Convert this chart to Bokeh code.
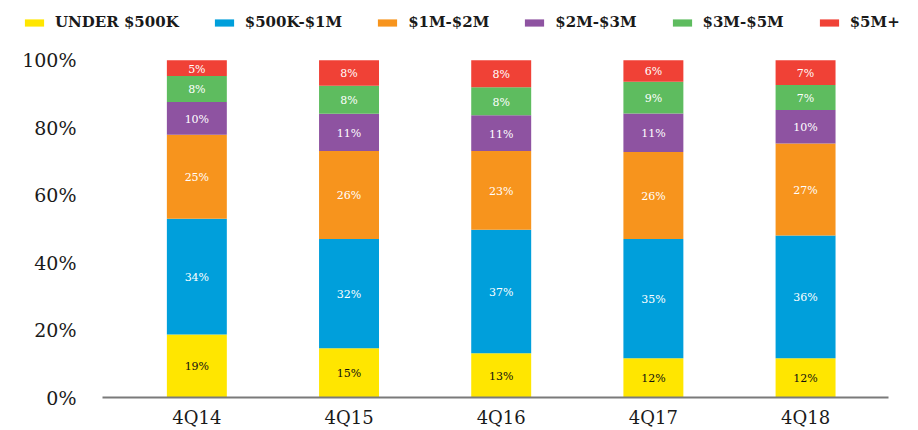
from bokeh.plotting import figure
from bokeh.models import (ColumnDataSource, Range1d, FixedTicker, Legend, LegendItem)
from bokeh.layouts import column
from bokeh.core.properties import value
from bokeh.embed import file_html
from bokeh.resources import INLINE

# ---- data ----
quarters = ["4Q14", "4Q15", "4Q16", "4Q17", "4Q18"]
series_names = ["UNDER $500K", "$500K-$1M", "$1M-$2M", "$2M-$3M", "$3M-$5M", "$5M+"]
under_500k = [18.7, 14.6, 13.1, 11.6, 11.6]
k500_1m = [34.3, 32.4, 36.6, 35.4, 36.4]
m1_2m = [24.9, 26.1, 23.4, 25.8, 27.3]
m2_3m = [9.7, 11.0, 10.6, 11.4, 9.9]
m3_5m = [7.7, 8.3, 8.3, 9.4, 7.4]
m5_plus = [4.7, 7.6, 8.0, 6.4, 7.4]
y_ticks = [0, 20, 40, 60, 80, 100]
y_tick_labels = ["0%", "20%", "40%", "60%", "80%", "100%"]

colors = ["#FFE600", "#009FDB", "#F7941D", "#8E53A1", "#5EBC5F", "#F04136"]
label_colors = ["#111111", "white", "white", "white", "white", "white"]
serif = "DejaVu Serif"

series = [under_500k, k500_1m, m1_2m, m2_3m, m3_5m, m5_plus]
keys = ["s%d" % i for i in range(len(series))]
xs = list(range(len(quarters)))
data = {"x": xs}
for k, s in zip(keys, series):
    data[k] = s
source = ColumnDataSource(data)

# ---- legend strip ----
lf = figure(width=918, height=34, output_backend="svg", toolbar_location=None,
            x_range=Range1d(0, 1), y_range=Range1d(0, 1),
            x_axis_type=None, y_axis_type=None,
            min_border_left=0, min_border_right=0, min_border_top=0, min_border_bottom=0)
lf.frame_align = False
lf.outline_line_color = None
lf.xgrid.visible = False
lf.ygrid.visible = False
legend_renderers = lf.vbar_stack(keys, x="x", width=0.394, color=colors, source=source,
                                 line_color=None, visible=False)
legend = Legend(items=[LegendItem(label=n, renderers=[r]) for n, r in zip(series_names, legend_renderers)],
                orientation="horizontal", location=(22, 2))
legend.border_line_color = None
legend.background_fill_alpha = 0
legend.inactive_fill_alpha = 0
legend.padding = 2
legend.margin = 0
legend.spacing = 33
legend.glyph_width = 24
legend.glyph_height = 9
legend.label_height = 20
legend.label_standoff = 9
legend.label_text_font = serif
legend.label_text_font_style = "bold"
legend.label_text_font_size = "15px"
legend.label_text_color = "#1a1a1a"
lf.add_layout(legend)

# ---- main chart ----
p = figure(width=918, height=396, output_backend="svg", toolbar_location=None,
           x_range=Range1d(-0.62, 4.545), y_range=Range1d(0, 107.6),
           min_border_left=102, min_border_right=30, min_border_bottom=33,
           min_border_top=0)
p.frame_align = False
p.outline_line_color = None
p.xgrid.visible = False
p.ygrid.visible = False
p.background_fill_color = "white"
p.border_fill_color = "white"

p.vbar_stack(keys, x="x", width=0.394, color=colors, source=source, line_color=None)

# segment labels
for i, (s, lc) in enumerate(zip(series, label_colors)):
    mids, texts = [], []
    for j in range(len(quarters)):
        base = sum(series[k][j] for k in range(i))
        mids.append(base + s[j] / 2.0)
        texts.append("%d%%" % round(s[j]))
    p.text(x=xs, y=mids, text=texts, text_align="center", text_baseline="middle",
           text_font=value(serif), text_font_size="11px", text_color=lc, y_offset=1)

# axes
p.xaxis.ticker = FixedTicker(ticks=xs)
p.xaxis.major_label_overrides = {i: q for i, q in enumerate(quarters)}
p.xaxis.major_tick_line_color = None
p.xaxis.major_tick_out = 0
p.xaxis.major_tick_in = 0
p.xaxis.minor_tick_line_color = None
p.xaxis.axis_line_color = "#7a7a7a"
p.xaxis.axis_line_width = 2
p.xaxis.major_label_text_font = serif
p.xaxis.major_label_text_font_size = "18px"
p.xaxis.major_label_text_color = "#1a1a1a"
p.xaxis.major_label_standoff = 9

p.yaxis.ticker = FixedTicker(ticks=y_ticks)
p.yaxis.major_label_overrides = {t: l for t, l in zip(y_ticks, y_tick_labels)}
p.yaxis.major_tick_line_color = None
p.yaxis.major_tick_out = 0
p.yaxis.major_tick_in = 0
p.yaxis.minor_tick_line_color = None
p.yaxis.axis_line_color = None
p.yaxis.major_label_text_font = serif
p.yaxis.major_label_text_font_size = "19px"
p.yaxis.major_label_text_color = "#1a1a1a"
p.yaxis.major_label_standoff = 26

layout = column(lf, p, spacing=0)
open("out.html", "w").write(file_html(layout, INLINE))
